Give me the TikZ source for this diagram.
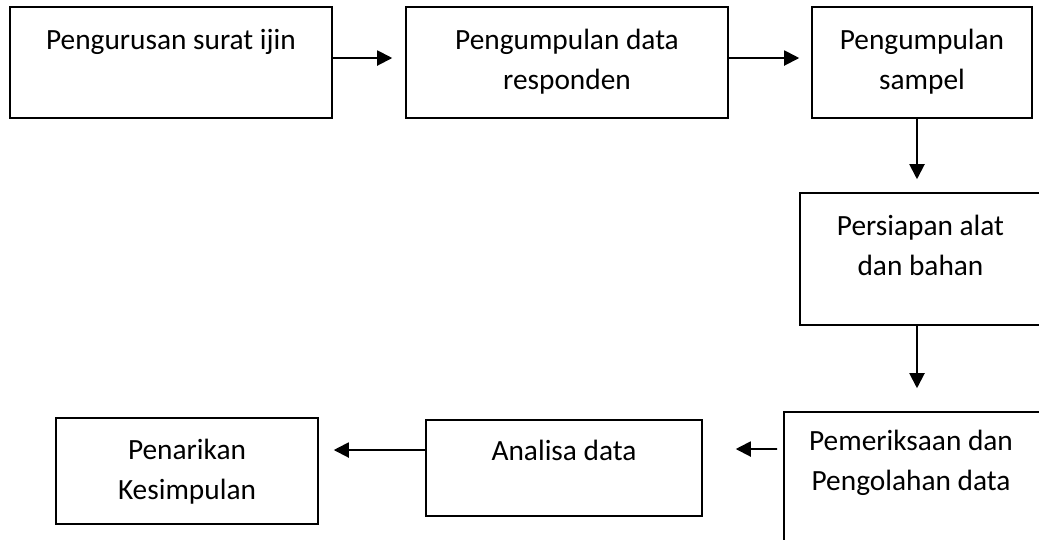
\documentclass[tikz,border=0pt]{standalone}
\usepackage{fontspec}
\setmainfont{Carlito}
\usepackage{tikz}
\usetikzlibrary{arrows.meta}
\usetikzlibrary{positioning}

\begin{document}
\begin{tikzpicture}[x=0.02cm, y=-0.02cm,
  box/.style={draw, line width=0.9pt, inner sep=0pt},
  txt/.style={font=\fontsize{16.7}{22.7}\selectfont, align=center, anchor=base, inner sep=0pt},
  arr/.style={line width=1.1pt, -{Triangle[length=0.3cm, width=0.3cm]}}]
  \useasboundingbox (0,0) rectangle (1039,539);
  \clip (0,0) rectangle (1039,539);

  % kotak-kotak
  \node[box, minimum width=6.44cm, minimum height=2.22cm] (surat) at (171,62.5) {};
  \node[box, minimum width=6.44cm, minimum height=2.22cm] (responden) at (567,62.5) {};
  \node[box, minimum width=4.4cm, minimum height=2.22cm] (sampel) at (922,62.5) {};
  \node[box, minimum width=4.82cm, minimum height=2.64cm] (alat) at (920.5,259) {};
  \node[box, minimum width=5.12cm, minimum height=2.96cm] (olah) at (912,486) {};
  \node[box, minimum width=5.52cm, minimum height=1.92cm] (analisa) at (564,468) {};
  \node[box, minimum width=5.24cm, minimum height=2.12cm] (simpul) at (187,471) {};

  % tulisan (anchor base = baris terakhir)
  \node[txt] (tsurat) at ([yshift=-0.87cm]surat.north) {Pengurusan surat ijin};
  \node[txt] (tresponden) at ([yshift=-1.67cm]responden.north) {Pengumpulan data\\responden};
  \node[txt] (tsampel) at ([yshift=-1.67cm]sampel.north) {Pengumpulan\\sampel};
  \node[txt] (talat) at ([yshift=-1.66cm]alat.north) {Persiapan alat\\dan bahan};
  \node[txt] (tolah) at ([xshift=-0.02cm, yshift=-1.58cm]olah.north) {Pemeriksaan dan\\Pengolahan data};
  \node[txt] (tanalisa) at ([yshift=-0.82cm]analisa.north) {Analisa data};
  \node[txt] (tsimpul) at ([yshift=-1.64cm]simpul.north) {Penarikan\\Kesimpulan};

  % panah
  \draw[arr, shorten >=0.26cm] ([yshift=0.09cm]surat.east) -- ([yshift=0.09cm]responden.west);
  \draw[arr, shorten >=0.24cm] ([yshift=0.09cm]responden.east) -- ([yshift=0.09cm]sampel.west);
  \draw[arr, shorten >=0.26cm] ([xshift=-0.1cm]sampel.south) -- ([xshift=-0.07cm]alat.north);
  \draw[arr, shorten >=0.46cm] ([xshift=-0.07cm]alat.south) -- ([xshift=0.1cm]olah.north);
  \draw[arr, shorten <=0.12cm, shorten >=0.66cm] ([yshift=0.74cm]olah.west) -- ([yshift=0.38cm]analisa.east);
  \draw[arr, shorten >=0.3cm] ([yshift=0.36cm]analisa.west) -- ([yshift=0.42cm]simpul.east);
\end{tikzpicture}
\end{document}
